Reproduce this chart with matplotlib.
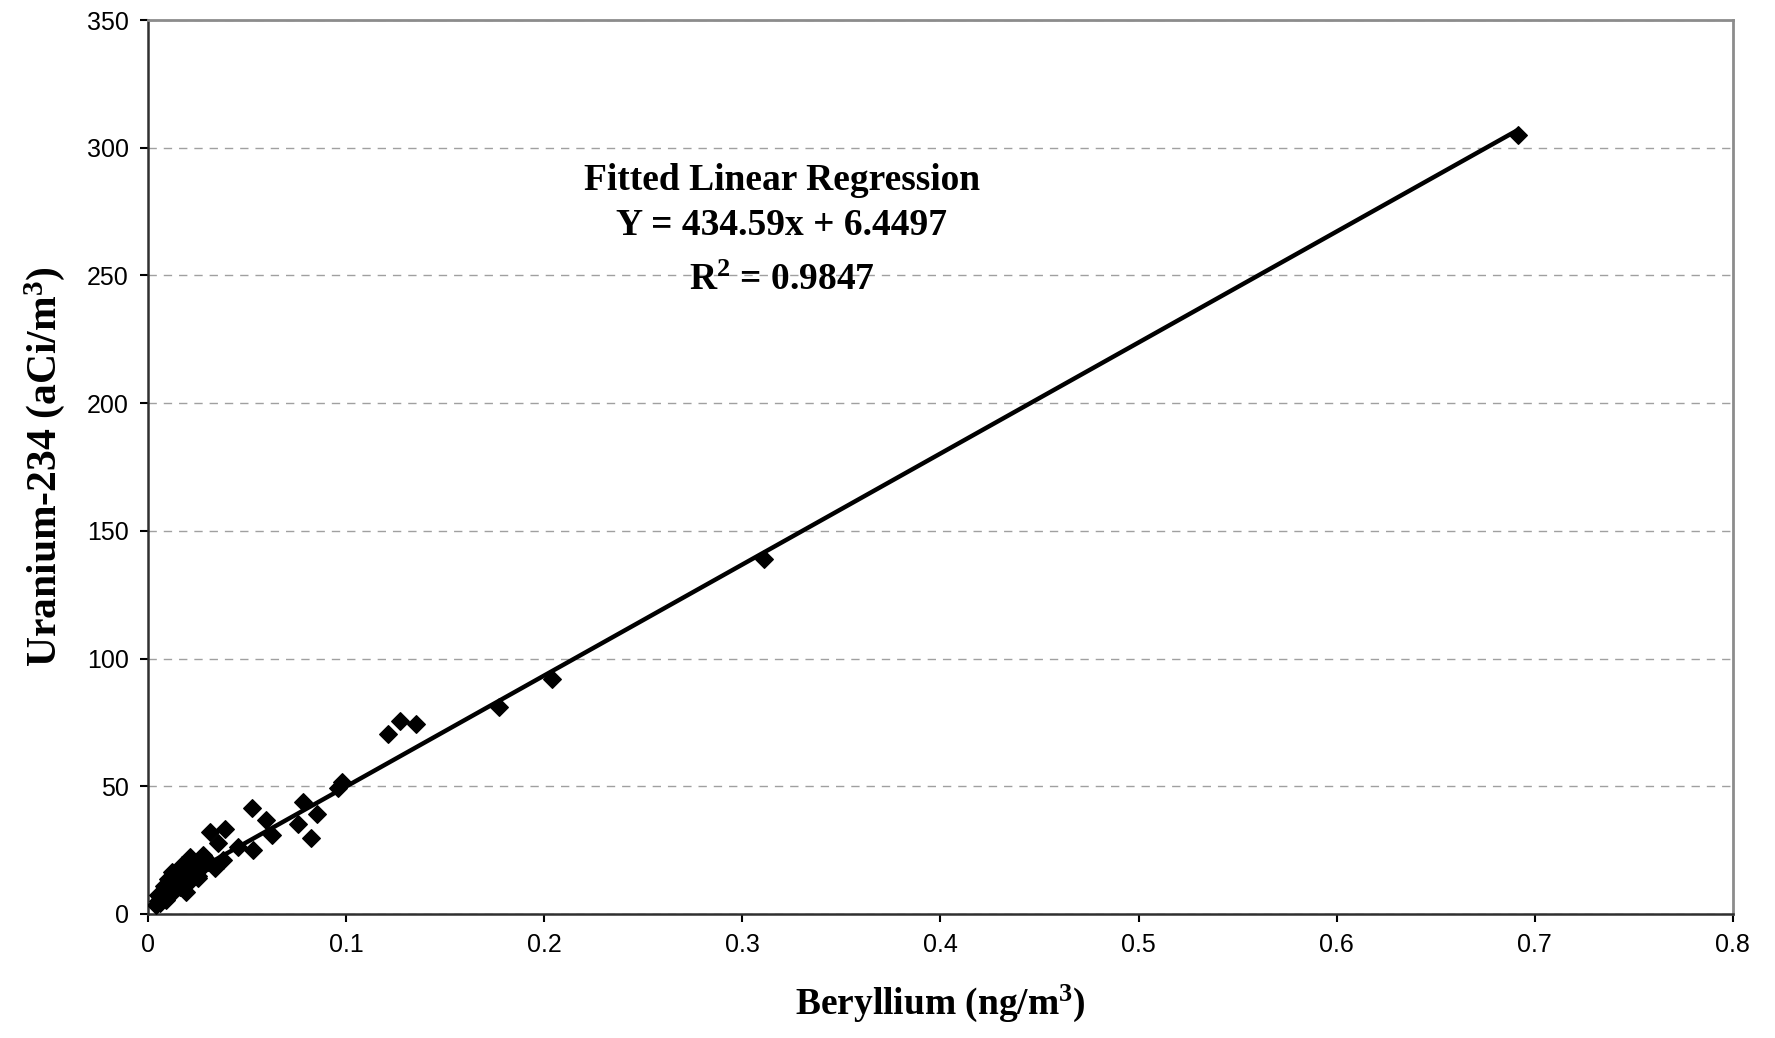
import numpy as np
import matplotlib
matplotlib.use("Agg")
import matplotlib.pyplot as plt

# beryllium (ng/m3) vs uranium-234 (aCi/m3) sample pairs
beryllium = [
    0.004, 0.005, 0.006, 0.005, 0.007, 0.008, 0.009, 0.010, 0.008, 0.011,
    0.012, 0.013, 0.010, 0.012, 0.014, 0.015, 0.016, 0.017, 0.018, 0.019,
    0.020, 0.021, 0.022, 0.023, 0.024, 0.025, 0.026, 0.028, 0.030, 0.0169,
    0.0202, 0.0253, 0.0211, 0.0278, 0.0303, 0.0312, 0.0337, 0.0354, 0.0379,
    0.0388, 0.0455, 0.0526, 0.0531, 0.0594, 0.0624, 0.0759, 0.0784, 0.0821,
    0.0855, 0.096, 0.098, 0.1212, 0.1274, 0.1355, 0.177, 0.2038, 0.3109,
    0.6916, 0.006, 0.009, 0.014, 0.018, 0.022, 0.027,
]
uranium234 = [
    3.5, 5.0, 4.2, 7.5, 6.0, 8.5, 5.5, 10.0, 11.0, 7.5,
    9.0, 11.5, 13.5, 16.5, 12.5, 14.0, 10.5, 15.0, 13.0, 8.5,
    16.5, 21.5, 18.0, 17.0, 20.0, 15.0, 19.0, 22.4, 21.0, 19.2,
    12.0, 14.0, 22.4, 23.1, 20.5, 32.2, 17.9, 27.7, 21.1,
    33.2, 26.3, 41.4, 25.0, 36.8, 30.9, 35.2, 43.9, 29.6,
    39.1, 49.5, 51.5, 70.3, 75.7, 74.4, 81.1, 91.9, 138.9,
    304.9, 6.5, 9.5, 11.0, 12.0, 15.5, 18.5,
]

slope = 434.59
intercept = 6.4497
r_squared = 0.9847

x_ticks = [0, 0.1, 0.2, 0.3, 0.4, 0.5, 0.6, 0.7, 0.8]
y_ticks = [0, 50, 100, 150, 200, 250, 300, 350]

plt.rcParams["font.family"] = "Liberation Sans"
plt.rcParams["mathtext.fontset"] = "custom"
plt.rcParams["mathtext.rm"] = "Liberation Serif:bold"
plt.rcParams["mathtext.bf"] = "Liberation Serif:bold"
plt.rcParams["mathtext.it"] = "Liberation Serif:bold"
plt.rcParams["mathtext.default"] = "rm"

fig = plt.figure(figsize=(17.75, 10.38), dpi=100)
ax = fig.add_axes([0.0834, 0.1195, 0.8929, 0.8612])

ax.scatter(beryllium, uranium234, marker="D", s=80, color="black", zorder=3)

# trend line over the range of the data
xfit = np.array([min(beryllium), max(beryllium)])
ax.plot(xfit, slope * xfit + intercept, color="black", linewidth=3.2, zorder=2)

ax.set_xlim(0, 0.8)
ax.set_ylim(0, 350)
ax.set_xticks(x_ticks)
ax.set_xticklabels([f"{t:g}" for t in x_ticks])
ax.set_yticks(y_ticks)
ax.yaxis.grid(True, linestyle=(0, (6, 5)), color="#a0a0a0", linewidth=1)
ax.set_axisbelow(True)

ax.tick_params(direction="out", length=6, width=1.5, pad=8, labelsize=18)

ax.spines["left"].set_color("#303030")
ax.spines["bottom"].set_color("#303030")
ax.spines["left"].set_linewidth(1.8)
ax.spines["bottom"].set_linewidth(1.8)
ax.spines["top"].set_color("#8c8c8c")
ax.spines["right"].set_color("#8c8c8c")
ax.spines["top"].set_linewidth(2)
ax.spines["right"].set_linewidth(2)

serif = dict(family="Liberation Serif", weight="bold")
ax.text(0.32, 287, "Fitted Linear Regression", ha="center", va="center", fontsize=27, **serif)
ax.text(0.32, 269.5, f"Y = {slope}x + {intercept}", ha="center", va="center", fontsize=27, **serif)
ax.text(0.32, 248, r"R$^{2}$ = " + f"{r_squared}", ha="center", va="center", fontsize=27, **serif)

fig.text(940 / 1775, 1 - 1003 / 1038, r"Beryllium (ng/m$^{3}$)", ha="center", va="center", fontsize=27, **serif)
fig.text(45 / 1775, 1 - 467 / 1038, r"Uranium-234 (aCi/m$^{3}$)", ha="center", va="center",
         rotation=90, fontsize=30, **serif)

fig.savefig("out.png", dpi=100, facecolor="white")
